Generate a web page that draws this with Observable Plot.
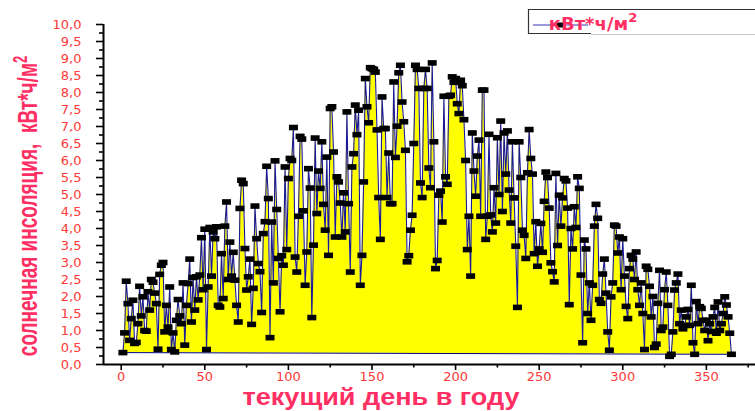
<!DOCTYPE html>
<html><head><meta charset="utf-8">
<script src="https://cdn.jsdelivr.net/npm/d3@7"></script>
<script src="https://cdn.jsdelivr.net/npm/@observablehq/plot@0.6"></script>
<style>
html,body{margin:0;padding:0;overflow:hidden;background:#fff;width:755px;height:411px}
#chart{position:relative;width:755px;height:411px;overflow:hidden}
#chart svg{display:block;max-width:none !important;width:755px;height:411px;overflow:hidden !important}
</style>
</head><body><div id="chart"></div>
<script>
// Daily solar insolation, kWh/m², days 1..365
const insolation = [
  0.35, 0.93, 2.45, 1.79, 0.71, 1.35, 1.89, 0.62, 0.65, 1.2,
  2.3, 1.43, 1.99, 1.0, 0.98, 2.14, 1.6, 2.5, 2.42, 2.1,
  1.79, 0.45, 2.65, 2.92, 3.0, 0.96, 1.74, 1.1, 2.28, 0.44,
  0.93, 0.37, 1.3, 1.91, 1.43, 1.2, 2.4, 0.57, 1.74, 2.38,
  3.1, 1.25, 2.56, 1.6, 2.58, 1.9, 2.63, 3.73, 2.2, 3.98,
  0.44, 2.28, 4.03, 2.6, 3.9, 3.7, 4.05, 1.74, 1.69, 3.26,
  1.94, 4.07, 4.78, 2.5, 3.6, 2.6, 3.3, 2.48, 1.74, 1.25,
  4.59, 5.42, 5.32, 3.41, 2.19, 2.58, 3.1, 1.18, 2.24, 4.66,
  3.7, 2.97, 2.73, 1.53, 3.85, 4.2, 5.83, 4.88, 0.79, 4.19,
  2.4, 5.99, 4.56, 3.12, 1.55, 3.2, 2.92, 5.81, 3.38, 5.47,
  6.06, 6.0, 6.97, 3.16, 2.72, 4.36, 6.71, 6.63, 4.52, 2.33,
  3.31, 5.76, 5.19, 1.38, 3.51, 6.66, 4.44, 5.69, 5.18, 6.55,
  4.71, 3.95, 6.1, 3.21, 7.53, 7.58, 6.25, 3.75, 5.52, 5.37,
  4.75, 3.75, 5.05, 3.9, 7.43, 4.73, 2.72, 5.81, 6.2, 7.63,
  6.76, 7.48, 2.33, 3.21, 5.37, 8.41, 7.58, 7.11, 8.73, 8.7,
  8.68, 8.6, 6.9, 4.91, 3.68, 7.87, 6.94, 6.94, 4.91, 6.22,
  4.73, 4.73, 8.31, 6.09, 7.01, 8.58, 8.8, 7.72, 7.14, 6.3,
  3.02, 3.2, 3.95, 4.39, 6.5, 8.8, 8.68, 8.12, 5.34, 4.91,
  8.12, 8.68, 8.12, 5.78, 5.2, 8.87, 6.55, 2.82, 3.06, 4.98,
  5.1, 4.19, 7.89, 5.52, 5.3, 7.89, 7.92, 8.46, 8.3, 8.41,
  7.67, 7.38, 8.36, 8.2, 7.2, 6.0, 3.38, 4.36, 2.6, 6.81,
  5.69, 4.95, 6.13, 6.6, 4.36, 8.07, 8.07, 3.68, 4.36, 6.77,
  4.4, 3.9, 5.2, 4.16, 6.67, 5.0, 7.16, 4.5, 6.81, 5.6,
  6.87, 5.13, 4.16, 6.55, 4.9, 3.48, 1.68, 6.55, 5.5, 3.95,
  3.8, 3.12, 5.64, 6.91, 6.06, 5.6, 3.26, 4.2, 2.89, 3.4,
  4.15, 3.3, 4.8, 5.66, 5.5, 4.6, 2.99, 2.73, 2.43, 5.62,
  3.5, 4.98, 4.07, 4.9, 5.47, 5.4, 4.6, 1.76, 4.0, 3.4,
  4.64, 4.03, 5.52, 5.18, 2.63, 0.64, 3.66, 3.4, 1.5, 2.4,
  1.3, 2.33, 4.07, 4.71, 4.3, 1.91, 1.8, 2.66, 3.1, 2.1,
  0.96, 0.42, 1.99, 2.4, 4.1, 4.07, 3.28, 3.75, 2.2, 3.7,
  2.6, 1.71, 1.35, 2.82, 3.21, 3.1, 2.5, 3.31, 2.2, 1.74,
  2.4, 1.5, 0.44, 2.89, 2.8, 2.3, 1.4, 2.0, 0.5, 0.6,
  1.8, 2.77, 1.0, 1.1, 2.2, 2.72, 1.74, 0.24, 0.3, 0.96,
  2.19, 2.4, 2.66, 1.2, 1.6, 1.05, 1.15, 1.4, 1.62, 1.15,
  2.33, 0.64, 0.3, 1.85, 1.2, 1.7, 1.65, 1.3, 1.0, 1.3,
  0.7, 1.2, 0.97, 1.4, 1.68, 0.92, 1.84, 1.0, 1.2, 1.5,
  1.99, 1.75, 1.4, 0.92, 0.3
];
const days = insolation.map((_, i) => i + 1);
const xTicks = [0, 50, 100, 150, 200, 250, 300, 350];
const xMinorTicks = [25, 75, 125, 175, 225, 275, 325, 375];
const yTicks = [0, 0.5, 1, 1.5, 2, 2.5, 3, 3.5, 4, 4.5, 5, 5.5, 6, 6.5, 7, 7.5, 8, 8.5, 9, 9.5, 10];
const yMinorTicks = [0.25, 0.75, 1.25, 1.75, 2.25, 2.75, 3.25, 3.75, 4.25, 4.75, 5.25, 5.75, 6.25, 6.75, 7.25, 7.75, 8.25, 8.75, 9.25, 9.75];
const xDomain = [-10.6, 379.4];
const yDomain = [0, 10];
const xTitle = "текущий день в году";
const yTitle = "солнечная инсоляция,  кВт*ч/м";
const seriesName = "кВт*ч/м";

const data = days.map((day, i) => ({day, value: insolation[i]}));
const first = data[0], last = data[data.length - 1];
const chord = d => first.value + (last.value - first.value) * (d.day - first.day) / (last.day - first.day);

const rectSymbol = {draw(ctx) { ctx.moveTo(-4.5, -2.8); ctx.lineTo(4.5, -2.8); ctx.lineTo(4.5, 2.8); ctx.lineTo(-4.5, 2.8); ctx.closePath(); }};
const fmt = d => d.toFixed(1).replace(".", ",");
const labelColor = "#ff3838";
const titleColor = "#ff2e63";

const chart = Plot.plot({
  width: 755, height: 411,
  marginLeft: 103, marginRight: 0, marginTop: 24, marginBottom: 47,
  x: {domain: xDomain},
  y: {domain: yDomain},
  style: {background: "white", fontFamily: "DejaVu Sans", fontSize: "13px"},
  marks: [
    Plot.areaY(data, {x: "day", y1: chord, y2: "value", fill: "#ffff00", curve: "linear"}),
    Plot.line([first, last], {x: "day", y: "value", stroke: "#000080", strokeWidth: 1}),
    Plot.line(data, {x: "day", y: "value", stroke: "#1a1a96", strokeWidth: 1.1}),
    Plot.dot(data, {x: "day", y: "value", symbol: rectSymbol, fill: "black", stroke: "none"}),
    Plot.axisX({ticks: xTicks, tickSize: 6, tickFormat: () => "", strokeWidth: 1.6, color: "black", label: null}),
    Plot.axisX({ticks: xMinorTicks, tickSize: 3.5, tickFormat: () => "", strokeWidth: 1.6, color: "black", label: null}),
    Plot.axisX({ticks: xTicks, tickSize: 0, tickPadding: 7, tickFormat: d => String(d), color: labelColor, label: null, ariaLabel: "x-labels"}),
    Plot.axisY({ticks: yTicks, tickSize: 7, tickFormat: () => "", strokeWidth: 1.6, color: "black", label: null}),
    Plot.axisY({ticks: yMinorTicks, tickSize: 4, tickFormat: () => "", strokeWidth: 1.6, color: "black", label: null}),
    Plot.axisY({ticks: yTicks, tickSize: 0, tickPadding: 22, tickFormat: fmt, color: labelColor, label: null}),
    Plot.ruleY([yDomain[0]], {stroke: "black", strokeWidth: 2}),
    Plot.ruleX([xDomain[0]], {stroke: "black", strokeWidth: 2})
  ]
});
document.getElementById("chart").appendChild(chart);

const svg = d3.select(chart);
svg.selectAll('g[aria-label="x-labels"] text').style("letter-spacing", "1.5px");
// axis titles
svg.append("text").attr("x", 381).attr("y", 405).attr("text-anchor", "middle")
  .attr("font-family", "'Liberation Sans', Arial, sans-serif").attr("font-weight", "bold").attr("font-size", 23)
  .attr("textLength", 277).attr("lengthAdjust", "spacingAndGlyphs")
  .attr("fill", titleColor).text(xTitle);
const yt = svg.append("text").attr("transform", "translate(37,206) rotate(-90) scale(1,1.5)").attr("text-anchor", "middle")
  .attr("font-family", "'Liberation Sans', Arial, sans-serif").attr("font-weight", "bold").attr("font-size", 19)
  .attr("fill", titleColor);
yt.append("tspan").text(yTitle);
yt.append("tspan").attr("dy", -7).attr("font-size", 13).text("2");
// legend (box runs off the right edge)
const lg = svg.append("g");
lg.append("rect").attr("x", 528.5).attr("y", 9.5).attr("width", 226.5).attr("height", 24).attr("fill", "white");
lg.append("path").attr("d", "M755,9.5H528.5V33.5H591").attr("fill", "none").attr("stroke", "#333").attr("stroke-width", 1.2);
lg.append("path").attr("d", "M591,34.5H755").attr("fill", "none").attr("stroke", "#c8c8c8").attr("stroke-width", 1);
lg.append("line").attr("x1", 533).attr("x2", 588).attr("y1", 25).attr("y2", 25).attr("stroke", "#7a7ad0").attr("stroke-width", 1.5);
lg.append("rect").attr("x", 556.5).attr("y", 22.5).attr("width", 9).attr("height", 5).attr("fill", "black");
const lt = lg.append("text").attr("x", 593).attr("y", 30).attr("font-family", "DejaVu Sans").attr("font-weight", "bold")
  .attr("font-size", 18).attr("fill", titleColor);
lt.append("tspan").text(seriesName);
lt.append("tspan").attr("dy", -8).attr("font-size", 13).text("2");
</script>
</body></html>
